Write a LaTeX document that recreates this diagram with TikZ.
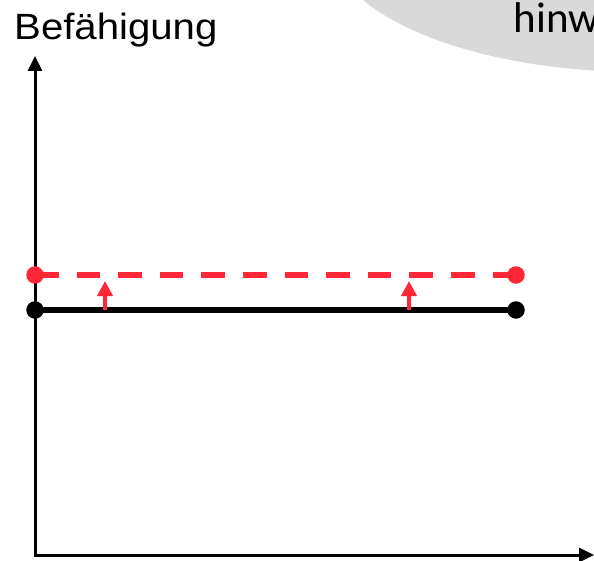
\documentclass[tikz,border=0pt]{standalone}
\usepackage{fontspec}
\setmainfont{Liberation Sans}
\newfontfamily\carlitofont{Carlito}
\usetikzlibrary{arrows.meta}
\definecolor{myred}{RGB}{255,38,56}
\definecolor{bubblegray}{RGB}{217,217,217}
\tikzset{
  axisline/.style={line width=3pt, line cap=rect, -{Triangle[length=15pt,width=14pt]}},
  leveldot/.style={circle, inner sep=0pt, minimum size=17.5pt, fill=#1},
  levelline/.style={line width=5.5pt},
  shiftarrow/.style={myred, line width=4.5pt, -{Triangle[length=15pt,width=15pt]}},
}
\begin{document}
\begin{tikzpicture}[x=1pt,y=-1pt]
\useasboundingbox (0,0) rectangle (594,561);
% gray bubble
\fill[bubblegray] (640,-60) ellipse [x radius=311, y radius=132];
\node[anchor=base west, inner sep=0pt, font=\carlitofont\fontsize{43}{50}\selectfont] (hint) at (513.5,33) {hinw};
% axis label
\node[anchor=base west, inner sep=0pt, xscale=1.1, font=\fontsize{36.5}{42}\selectfont] (ylabel) at (14,40) {Befähigung};
% coordinates
\coordinate (o) at (35,555);
\coordinate (ytip) at (35,56);
\coordinate (xtip) at (594,555);
\coordinate (rl) at (35,275);
\coordinate (rr) at (516,275);
\coordinate (bl) at (35,310);
\coordinate (br) at (516,310);
\coordinate (a1s) at (105,310);
\coordinate (a1e) at (105,281);
\coordinate (a2s) at (409,310);
\coordinate (a2e) at (409,281);
% axes
\draw[axisline] (o) -- (ytip);
\draw[axisline] (o) -- (xtip);
% levels
\draw[levelline, black] (bl) -- (br);
\draw[levelline, myred, dash pattern=on 23.5pt off 18.1pt] (rl) -- (rr);
% shift arrows
\draw[shiftarrow] (a1s) -- (a1e);
\draw[shiftarrow] (a2s) -- (a2e);
% dots
\node[leveldot=black] (bldot) at (bl) {};
\node[leveldot=black] (brdot) at (br) {};
\node[leveldot=myred] (rldot) at (rl) {};
\node[leveldot=myred] (rrdot) at (rr) {};
\end{tikzpicture}
\end{document}
